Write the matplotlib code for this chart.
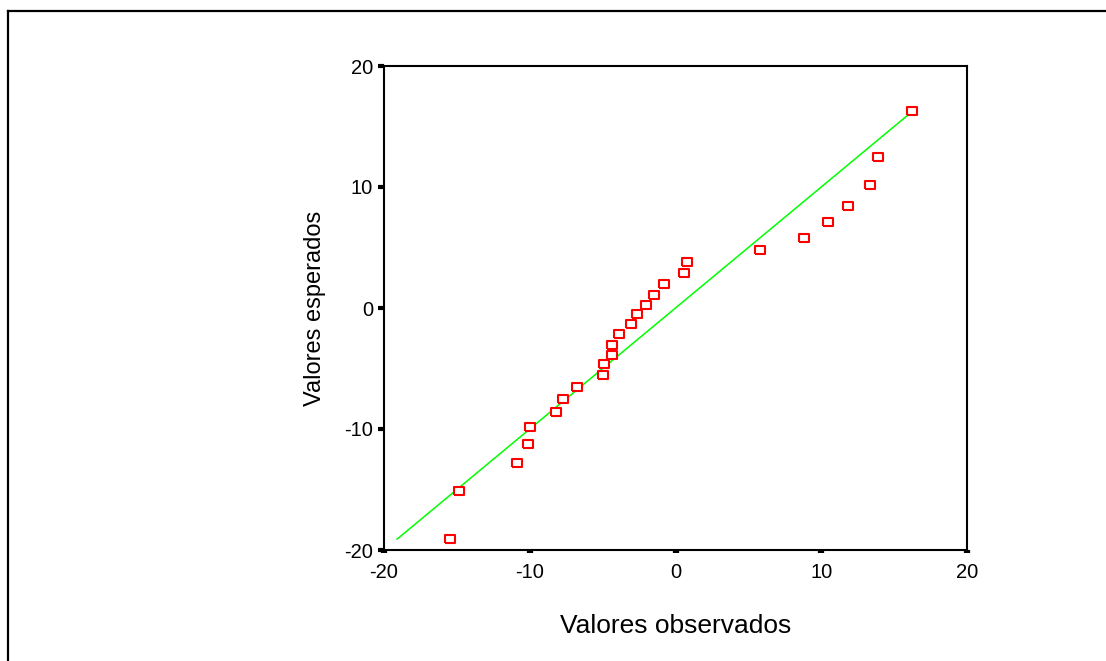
import numpy as np
import matplotlib
matplotlib.use('Agg')
import matplotlib.pyplot as plt
from matplotlib.lines import Line2D

plt.rcParams['font.family'] = ['Liberation Sans', 'DejaVu Sans']
plt.rcParams['axes.unicode_minus'] = False

# valores (Q-Q)
observados = [-15.5, -14.85, -10.86, -10.15, -10.0, -8.22, -7.70, -6.74, -4.95,
              -4.93, -4.38, -4.38, -3.85, -3.02, -2.63, -2.04, -1.49, -0.82,
              0.55, 0.82, 5.77, 8.80, 10.45, 11.84, 13.33, 13.88, 16.22]
esperados = [-19.1, -15.1, -12.84, -11.27, -9.81, -8.62, -7.55, -6.53, -5.56,
             -4.66, -3.86, -3.06, -2.12, -1.32, -0.52, 0.27, 1.05, 1.98,
             2.92, 3.83, 4.76, 5.81, 7.13, 8.46, 10.19, 12.45, 16.28]
ticks = [-20, -10, 0, 10, 20]

obs = np.array(observados)
esp = np.array(esperados)
lo = min(obs.min(), esp.min())
hi = max(obs.max(), esp.max())

W, H = 1106, 661
fig = plt.figure(figsize=(W / 100, H / 100), dpi=100)
ax = fig.add_axes([384 / W, 1 - 550 / H, (967 - 384) / W, (550 - 66) / H])

# recta de referencia y = x
ax.plot([lo, hi], [lo, hi], color='#00ff00', lw=1.1, zorder=2)

# marcador rectangular hueco
rect = [(-1, -0.72), (1, -0.72), (1, 0.72), (-1, 0.72), (-1, -0.72)]
ax.plot(obs, esp, linestyle='none', marker=rect, markersize=7.2,
        markerfacecolor='white', markeredgecolor='#ff0000',
        markeredgewidth=1.5, zorder=3)

ax.set_xlim(-20, 20)
ax.set_ylim(-20, 20)
ax.set_xticks(ticks)
ax.set_yticks(ticks)
ax.tick_params(axis='x', direction='out', length=2.5, width=4.5, pad=7,
               labelsize=14.5)
ax.tick_params(axis='y', direction='out', length=4, width=3, pad=4,
               labelsize=14.5)
for s in ax.spines.values():
    s.set_linewidth(1.5)

ax.set_xlabel('Valores observados', fontsize=19, labelpad=23)
ax.set_ylabel('Valores esperados', fontsize=17, labelpad=13)

# marco exterior (solo arriba e izquierda visibles)
fig.add_artist(Line2D([7.5 / W, 7.5 / W], [0, 1 - 10.5 / H],
                      transform=fig.transFigure, color='black', lw=1.6))
fig.add_artist(Line2D([7.5 / W, 1], [1 - 10.5 / H, 1 - 10.5 / H],
                      transform=fig.transFigure, color='black', lw=1.6))

fig.savefig('out.png', dpi=100)
